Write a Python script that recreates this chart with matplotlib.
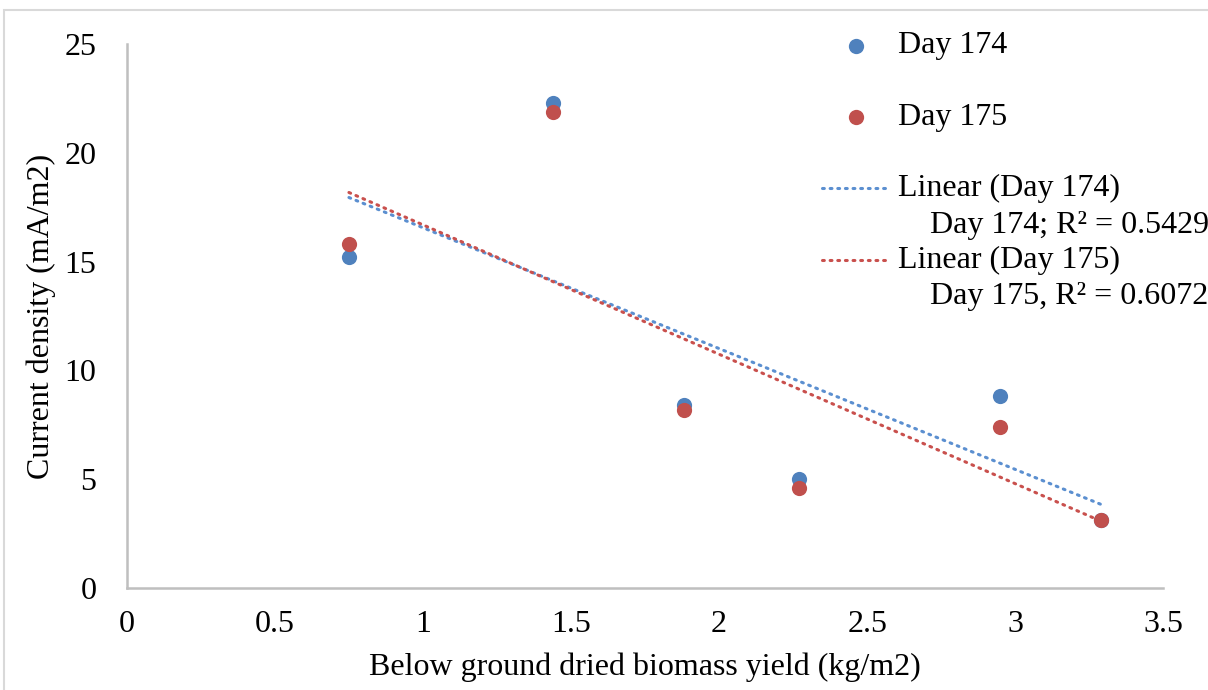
import numpy as np
import matplotlib
matplotlib.use("Agg")
import matplotlib.pyplot as plt
from matplotlib.lines import Line2D
from matplotlib.patches import Rectangle

plt.rcParams['font.family'] = ['Liberation Serif', 'DejaVu Serif']

# Below ground dried biomass yield (kg/m2)
biomass = [0.75, 1.44, 1.88, 2.27, 2.95, 3.29]
# Current density (mA/m2)
day174 = [15.2, 22.3, 8.4, 5.0, 8.8, 3.1]
day175 = [15.8, 21.9, 8.2, 4.6, 7.4, 3.1]

series_names = ["Day 174", "Day 175"]
r2_labels = ["Day 174; R\u00b2 = 0.5429", "Day 175, R\u00b2 = 0.6072"]
colors = ["#4f81bd", "#c0504d"]
trend_colors = ["#5b8fd0", "#c9504d"]

x_ticks = [0, 0.5, 1, 1.5, 2, 2.5, 3, 3.5]
y_ticks = [0, 5, 10, 15, 20, 25]

fig = plt.figure(figsize=(12.08, 6.9), dpi=100)
ax = fig.add_axes([0.105, 0.148, 0.858, 0.788])

x = np.array(biomass)
xs = np.array([x.min(), x.max()])
dotted = (0, (0.6, 1.9))
for ys, c, tc in zip([day174, day175], colors, trend_colors):
    ax.scatter(x, ys, s=120, color=c, zorder=3, linewidths=0)
    k, b = np.polyfit(x, np.array(ys), 1)
    ax.plot(xs, k * xs + b, color=tc, lw=2.2, linestyle=dotted,
            dash_capstyle='round', zorder=2)

ax.set_xlim(0, 3.5)
ax.set_ylim(0, 25)
ax.set_xticks(x_ticks)
ax.set_xticklabels([f"{t:g}" for t in x_ticks])
ax.set_yticks(y_ticks)
ax.tick_params(axis='both', length=0, labelsize=23)
ax.tick_params(axis='x', pad=16)
ax.tick_params(axis='y', pad=22)
for side in ['top', 'right']:
    ax.spines[side].set_visible(False)
for side in ['left', 'bottom']:
    ax.spines[side].set_color('#bfbfbf')
    ax.spines[side].set_linewidth(1.8)
ax.set_xlabel("Below ground dried biomass yield (kg/m2)", fontsize=23, labelpad=10)
ax.set_ylabel("Current density (mA/m2)", fontsize=23, labelpad=6)

# legend, laid out by hand in figure pixels
W, H = 1208, 690
def fx(px):
    return px / W
def fy(py):
    return 1 - py / H

text_x = 898
for name, c, py in zip(series_names, colors, [46, 117]):
    fig.add_artist(Line2D([fx(856)], [fy(py)], marker='o', markersize=11,
                          color=c, markeredgewidth=0, linestyle='none'))
    fig.text(fx(text_x), fy(py), name, fontsize=23, va='center', ha='left')

for name, lab, tc, py in zip(series_names, r2_labels, trend_colors, [188, 260]):
    fig.add_artist(Line2D([fx(822), fx(886)], [fy(py), fy(py)], color=tc, lw=2.2,
                          linestyle=dotted, dash_capstyle='round'))
    fig.text(fx(text_x), fy(py), f"Linear ({name})", fontsize=23, va='center', ha='left')
    fig.text(fx(930), fy(py + 37), lab, fontsize=23, va='center', ha='left')

# chart area border
fig.add_artist(Rectangle((fx(4), -0.02), 1.1, fy(10) + 0.02, transform=fig.transFigure,
                         fill=False, edgecolor='#d9d9d9', lw=1.5))

fig.savefig("out.png", dpi=100)
